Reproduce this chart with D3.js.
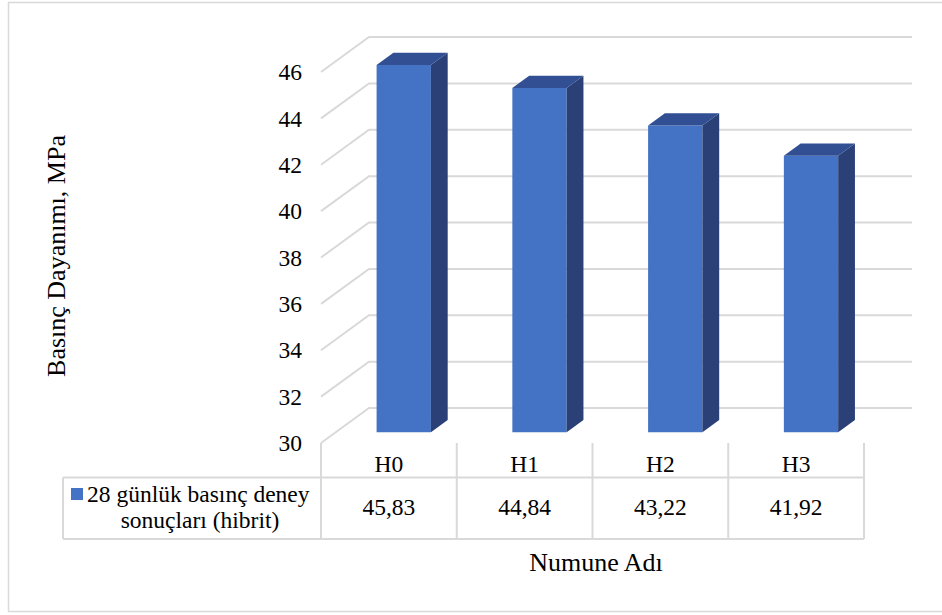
<!DOCTYPE html>
<html>
<head>
<meta charset="utf-8">
<script src="https://cdn.jsdelivr.net/npm/d3@7"></script>
<style>
  html, body { margin: 0; padding: 0; background: #fff; }
  svg { display: block; }
  svg text { font-family: "Liberation Serif", serif; }
</style>
</head>
<body>
<svg id="chart" width="942" height="615"></svg>
<script>
// Chart data
const categories = ["H0", "H1", "H2", "H3"];
const values = [45.83, 44.84, 43.22, 41.92];
const valueLabels = ["45,83", "44,84", "43,22", "41,92"];
const yTicks = [30, 32, 34, 36, 38, 40, 42, 44, 46];
const seriesName = ["28 günlük basınç deney", "sonuçları (hibrit)"];
const yTitle = "Basınç Dayanımı, MPa";
const xTitle = "Numune Adı";

const FONT = "Liberation Serif, serif";
const svg = d3.select("#chart");
const grid = "#d9d9d9";

// Plot frame: front plane and 3D depth vector
const left = 321, right = 864;
const depth = { dx: 48, dy: -35 };
const y = d3.scaleLinear().domain([30, 46]).range([443, 72]);
const x = d3.scaleBand().domain(categories).range([left, right]).paddingInner(0).paddingOuter(0);

// Bars sit in the middle section of the depth
const f0 = 0.31, f1 = 0.66;
const barFrac = 0.4;

// Outer border
svg.append("rect")
  .attr("x", 8.5).attr("y", 2.5).attr("width", 940).attr("height", 609)
  .attr("fill", "none").attr("stroke", grid).attr("stroke-width", 1.5);

// Gridlines: short diagonal on the side wall, then along the back wall
const gl = svg.append("g").attr("fill", "none").attr("stroke", grid).attr("stroke-width", 2);
yTicks.forEach(t => {
  const y0 = y(t);
  gl.append("path")
    .attr("d", `M${left},${y0} L${left + depth.dx},${y0 + depth.dy} L${right + depth.dx},${y0 + depth.dy}`);
});

// Y tick labels
svg.append("g").selectAll("text").data(yTicks).join("text")
  .attr("x", 302).attr("y", d => y(d))
  .attr("dy", "0.35em")
  .attr("text-anchor", "end")
  .attr("font-family", FONT)
  .attr("font-size", 23.5)
  .attr("fill", "#000")
  .text(d => d);

// 3D bars
const bars = svg.append("g");
categories.forEach((c, i) => {
  const v = values[i];
  const bw = x.bandwidth() * barFrac;
  const ox = depth.dx * f0, oy = depth.dy * f0;
  const bx = depth.dx * (f1 - f0), by = depth.dy * (f1 - f0);
  const xl = x(c) + (x.bandwidth() - bw) / 2 + ox;
  const xr = xl + bw;
  const yb = y(30) + oy;
  const yt = y(v) + oy;
  // front face
  bars.append("path")
    .attr("d", `M${xl},${yb} L${xl},${yt} L${xr},${yt} L${xr},${yb} Z`)
    .attr("fill", "#4472c4");
  // side face
  bars.append("path")
    .attr("d", `M${xr},${yb} L${xr},${yt} L${xr + bx},${yt + by} L${xr + bx},${yb + by} Z`)
    .attr("fill", "#2a4077");
  // top face
  bars.append("path")
    .attr("d", `M${xl},${yt} L${xr},${yt} L${xr + bx},${yt + by} L${xl + bx},${yt + by} Z`)
    .attr("fill", "#314f92");
});

// Data table below the plot
const rowTop = 443, rowMid = 477.5, rowBot = 539;
const tableLeft = 63;
const tl = svg.append("g").attr("stroke", grid).attr("stroke-width", 2).attr("fill", "none");
categories.map(c => x(c)).concat([right]).forEach(xv => {
  tl.append("line").attr("x1", xv).attr("x2", xv).attr("y1", rowTop).attr("y2", rowBot);
});
tl.append("line").attr("x1", tableLeft).attr("x2", right).attr("y1", rowMid).attr("y2", rowMid);
tl.append("line").attr("x1", tableLeft).attr("x2", right).attr("y1", rowBot).attr("y2", rowBot);
tl.append("line").attr("x1", tableLeft).attr("x2", tableLeft).attr("y1", rowMid).attr("y2", rowBot);

// Category labels
svg.append("g").selectAll("text").data(categories).join("text")
  .attr("x", d => x(d) + x.bandwidth() / 2)
  .attr("y", 472)
  .attr("text-anchor", "middle")
  .attr("font-family", FONT)
  .attr("font-size", 23.5)
  .attr("fill", "#000")
  .text(d => d);

// Value row
svg.append("g").selectAll("text").data(valueLabels).join("text")
  .attr("x", (d, i) => x(categories[i]) + x.bandwidth() / 2)
  .attr("y", 515)
  .attr("text-anchor", "middle")
  .attr("font-family", FONT)
  .attr("font-size", 23.5)
  .attr("fill", "#000")
  .text(d => d);

// Legend key and series name
svg.append("rect").attr("x", 71).attr("y", 488).attr("width", 12).attr("height", 12).attr("fill", "#4472c4");
svg.append("text").attr("x", 87).attr("y", 502)
  .attr("font-family", FONT).attr("font-size", 23.5).attr("fill", "#000").text(seriesName[0]);
svg.append("text").attr("x", 200).attr("y", 528).attr("text-anchor", "middle")
  .attr("font-family", FONT).attr("font-size", 23.5).attr("fill", "#000").text(seriesName[1]);

// Axis titles
svg.append("text")
  .attr("transform", "translate(65,256) rotate(-90)")
  .attr("text-anchor", "middle")
  .attr("font-family", FONT)
  .attr("font-size", 26)
  .attr("fill", "#000")
  .text(yTitle);
svg.append("text")
  .attr("x", 596).attr("y", 571)
  .attr("text-anchor", "middle")
  .attr("font-family", FONT)
  .attr("font-size", 26)
  .attr("fill", "#000")
  .text(xTitle);
</script>
</body>
</html>
